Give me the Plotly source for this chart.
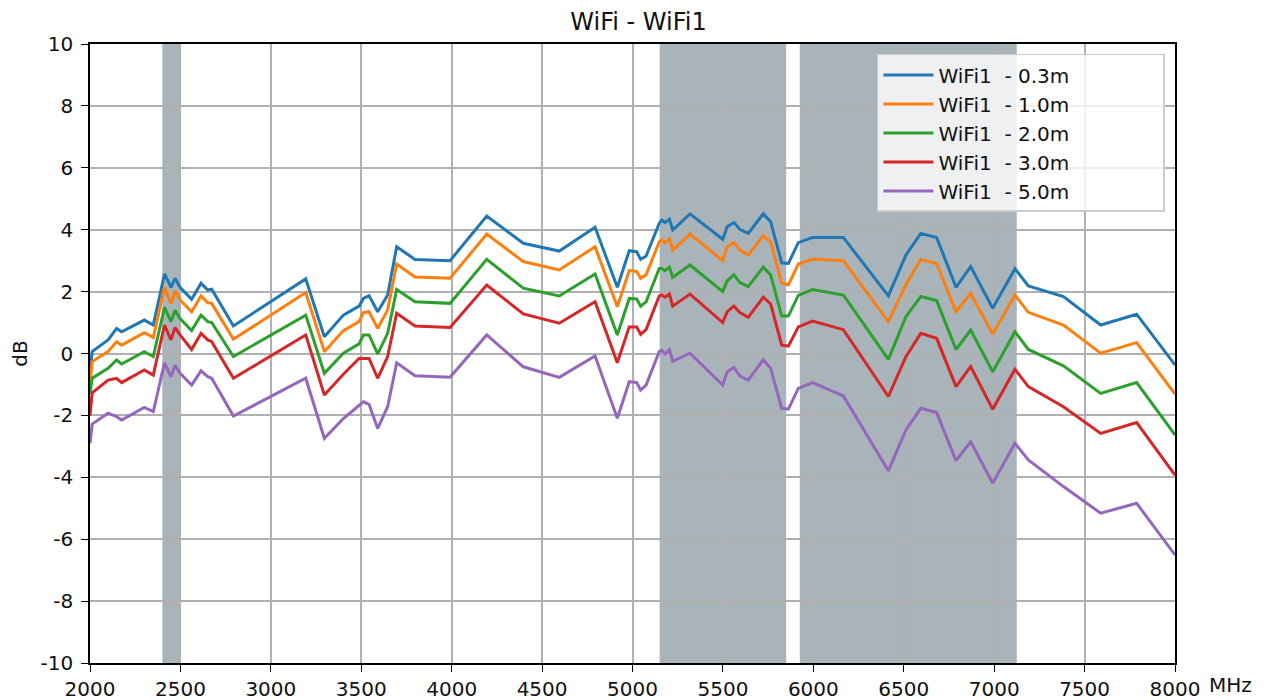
import plotly.graph_objects as go

# frequency points (MHz)
freq = [2000, 2012, 2100, 2147, 2175, 2300, 2350, 2412, 2448, 2470, 2498, 2562, 2614, 2651, 2673, 2793,
        3193, 3296, 3401, 3488, 3512, 3543, 3591, 3646, 3696, 3797, 3991, 4194, 4396, 4595, 4793, 4916,
        4982, 5023, 5045, 5075, 5148, 5161, 5180, 5204, 5222, 5318, 5499, 5524, 5561, 5594, 5640, 5723,
        5764, 5825, 5862, 5917, 5996, 6166, 6415, 6512, 6594, 6682, 6789, 6870, 6992, 7115, 7189, 7383,
        7589, 7788, 8000]

d03 = [-0.6, 0.06, 0.44, 0.81, 0.70, 1.08, 0.92, 2.57, 2.14, 2.43, 2.14, 1.75, 2.27, 2.05, 2.08, 0.89,
       2.41, 0.54, 1.24, 1.53, 1.78, 1.87, 1.35, 1.89, 3.45, 3.04, 3.0, 4.44, 3.56, 3.31, 4.08, 2.14,
       3.32, 3.29, 3.04, 3.15, 4.21, 4.31, 4.23, 4.34, 3.99, 4.51, 3.69, 4.10, 4.23, 4.01, 3.88, 4.51,
       4.26, 2.93, 2.91, 3.58, 3.75, 3.75, 1.86, 3.18, 3.88, 3.75, 2.14, 2.81, 1.46, 2.74, 2.18, 1.84,
       0.92, 1.27, -0.37]
d10 = [-1.0, -0.26, 0.06, 0.38, 0.27, 0.67, 0.52, 2.14, 1.62, 2.03, 1.73, 1.35, 1.86, 1.64, 1.62, 0.46,
       1.97, 0.06, 0.74, 1.03, 1.32, 1.35, 0.81, 1.41, 2.89, 2.47, 2.43, 3.86, 2.97, 2.70, 3.45, 1.51,
       2.68, 2.65, 2.43, 2.54, 3.61, 3.67, 3.58, 3.71, 3.34, 3.86, 3.0, 3.45, 3.58, 3.34, 3.18, 3.80,
       3.61, 2.27, 2.22, 2.89, 3.05, 3.0, 1.03, 2.22, 3.04, 2.91, 1.35, 1.94, 0.63, 1.89, 1.33, 0.92,
       0.01, 0.35, -1.31]
d20 = [-1.3, -0.80, -0.48, -0.21, -0.34, 0.06, -0.10, 1.49, 1.03, 1.40, 1.13, 0.74, 1.24, 1.03, 1.0, -0.10,
       1.24, -0.64, 0.01, 0.31, 0.60, 0.60, -0.01, 0.65, 2.07, 1.67, 1.62, 3.04, 2.11, 1.86, 2.57, 0.60,
       1.78, 1.76, 1.53, 1.67, 2.75, 2.75, 2.68, 2.79, 2.46, 2.86, 2.0, 2.35, 2.54, 2.29, 2.16, 2.79,
       2.54, 1.21, 1.21, 1.88, 2.07, 1.89, -0.19, 1.19, 1.84, 1.71, 0.13, 0.76, -0.59, 0.70, 0.13, -0.40,
       -1.29, -0.94, -2.63]
d30 = [-2.0, -1.27, -0.86, -0.80, -0.94, -0.53, -0.70, 0.92, 0.44, 0.84, 0.60, 0.13, 0.65, 0.44, 0.38, -0.80,
       0.60, -1.34, -0.67, -0.16, -0.16, -0.16, -0.80, -0.10, 1.30, 0.89, 0.84, 2.21, 1.28, 0.98, 1.67, -0.30,
       0.86, 0.86, 0.62, 0.77, 1.86, 1.89, 1.82, 1.92, 1.53, 1.92, 1.0, 1.35, 1.53, 1.32, 1.17, 1.82,
       1.60, 0.27, 0.24, 0.86, 1.05, 0.77, -1.39, -0.10, 0.65, 0.49, -1.07, -0.42, -1.80, -0.51, -1.07, -1.72,
       -2.58, -2.23, -3.93]
d50 = [-2.9, -2.28, -1.93, -2.04, -2.15, -1.74, -1.88, -0.30, -0.75, -0.38, -0.64, -1.02, -0.56, -0.75, -0.80, -2.02,
       -0.80, -2.74, -2.10, -1.67, -1.56, -1.64, -2.42, -1.72, -0.30, -0.72, -0.77, 0.60, -0.43, -0.77, -0.08, -2.09,
       -0.91, -0.94, -1.18, -1.02, 0.06, 0.10, -0.01, 0.12, -0.25, 0.01, -1.02, -0.59, -0.45, -0.73, -0.86, -0.20,
       -0.48, -1.77, -1.80, -1.13, -0.94, -1.37, -3.79, -2.47, -1.77, -1.91, -3.46, -2.85, -4.19, -2.90, -3.44, -4.30,
       -5.16, -4.84, -6.51]

pad = "\u00a0" * 14
names = ["WiFi1\u00a0\u00a0- 0.3m" + pad, "WiFi1\u00a0\u00a0- 1.0m" + pad, "WiFi1\u00a0\u00a0- 2.0m" + pad,
         "WiFi1\u00a0\u00a0- 3.0m" + pad, "WiFi1\u00a0\u00a0- 5.0m" + pad]
colors = ["#1f77b4", "#ff7f0e", "#2ca02c", "#d62728", "#9467bd"]

xticks = list(range(2000, 8001, 500))
yticks = list(range(-10, 11, 2))
ylabels = [str(v) for v in yticks]  # plain hyphen like the original

# WiFi bands (MHz)
bands = [(2400, 2500), (5150, 5850), (5925, 7125)]

fig = go.Figure()
for n, c, y in zip(names, colors, [d03, d10, d20, d30, d50]):
    fig.add_trace(go.Scatter(x=freq, y=y, name=n, mode="lines",
                             line=dict(color=c, width=3)))

for b0, b1 in bands:
    fig.add_shape(type="rect", xref="x", yref="paper", x0=b0, x1=b1, y0=0, y1=1,
                  fillcolor="rgba(158,171,178,0.9)", line_width=0, layer="between")

# page body has an 8px margin, so the figure is a bit smaller than the window
fig.update_layout(
    width=1261, height=692,
    margin=dict(l=82, r=94, t=36, b=37),
    paper_bgcolor="white", plot_bgcolor="white",
    font=dict(family="DejaVu Sans", size=20, color="#111111"),
    title=dict(text="WiFi - WiFi1", x=0.5, xanchor="center", y=1 - 14 / 692, yanchor="middle",
               font=dict(size=24)),
    showlegend=True,
    legend=dict(x=0.7253, y=0.984, xanchor="left", yanchor="top",
                bgcolor="rgba(255,255,255,0.8)", bordercolor="#cccccc", borderwidth=1.5,
                font=dict(size=20), tracegroupgap=0, itemwidth=50),
)
fig.update_xaxes(range=[2000, 8000], tickvals=xticks,
                 showgrid=True, gridcolor="#b0b0b0", gridwidth=2,
                 showline=True, linecolor="black", linewidth=1.5, mirror=True,
                 ticks="outside", ticklen=7, tickcolor="black", zeroline=False,
                 automargin=False)
fig.update_yaxes(range=[-10, 10], tickvals=yticks, ticktext=ylabels,
                 showgrid=True, gridcolor="#b0b0b0", gridwidth=2,
                 showline=True, linecolor="black", linewidth=1.5, mirror=True,
                 ticks="outside", ticklen=7, tickcolor="black", zeroline=False,
                 ticklabelstandoff=4, automargin=False,
                 title=dict(text="dB", standoff=10, font=dict(size=20)))
fig.add_annotation(text="MHz", xref="paper", yref="paper", x=1.0, y=0, xshift=32,
                   yshift=-8, xanchor="left", yanchor="top", showarrow=False,
                   font=dict(size=20))

fig.write_html("out.html")
